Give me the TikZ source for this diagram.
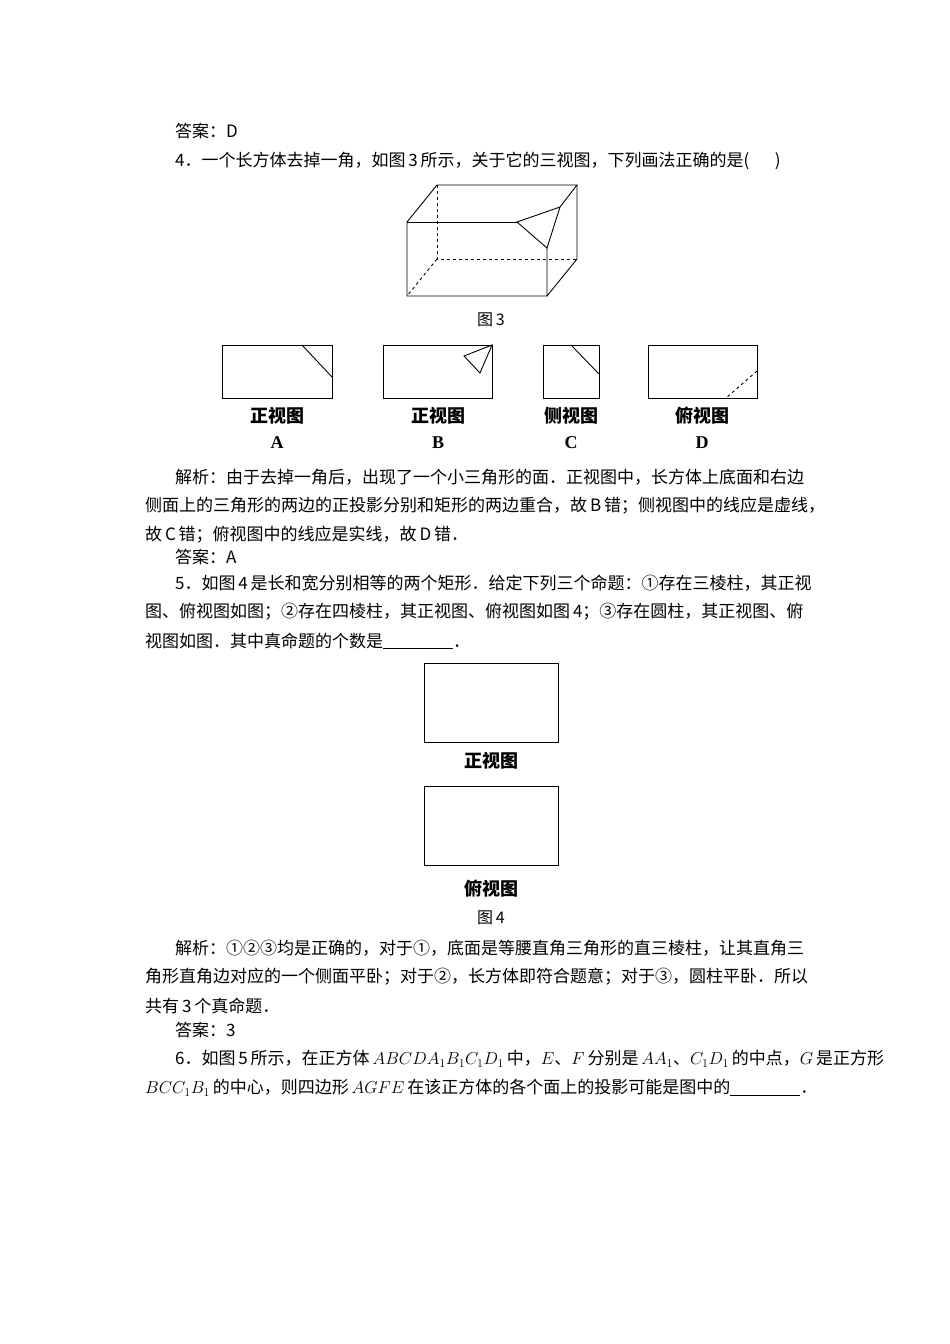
\documentclass[tikz,border=0pt]{standalone}
\usepackage{fontspec}
\setmainfont{Noto Sans CJK SC}
\newfontfamily\lat{Liberation Serif}
\begin{document}
\begin{tikzpicture}[x=1pt,y=-1pt,
  txt/.style={anchor=west,inner sep=0pt,font=\fontsize{17}{19}\selectfont},
  lbl/.style={inner sep=0pt,font=\fontsize{18}{20}\selectfont\bfseries},
  lettr/.style={inner sep=0pt,font=\fontsize{18}{20}\selectfont\lat\bfseries},
  figcap/.style={inner sep=0pt,font=\fontsize{16}{18}\selectfont},
  ln/.style={line width=0.9pt},
  dsh/.style={line width=0.9pt,dashed}]
\useasboundingbox (0,0) rectangle (950,1344);
\node[txt] (t1) at (175,131) {答案：D};
\node[txt] (t2) at (175,161) {4．一个长方体去掉一角，如图\,3\,所示，关于它的三视图，下列画法正确的是(\quad\enspace)};
% cube
\draw[ln] (517,222) -- (560,207) -- (547,248) -- cycle;
\draw[ln] (517,222) -- (407,222);
\draw[ln] (547,248) -- (547,296) -- (407,296) -- (407,222) -- (437,185) -- (577,185) -- (560,207);
\draw[ln] (577,185) -- (577,259) -- (547,296);
\draw[dsh] (437,185) -- (437,259) -- (577,259);
\draw[dsh] (437,259) -- (407,296);
\node[figcap] (f3) at (491,320) {图\,3};
% views
\draw[ln] (222,345) rectangle (332,398); \draw[ln] (302,345) -- (332,377);
\draw[ln] (383,345) rectangle (492,398); \draw[ln] (492,345) -- (464,356) -- (480,373) -- cycle;
\draw[ln] (543,345) rectangle (599,398); \draw[ln] (571,345) -- (599,374);
\draw[ln] (648,345) rectangle (757,398); \draw[dsh] (757,371) -- (726,398);
\node[lbl] (la) at (277,416) {正视图}; \node[lettr] (a) at (277,443) {A};
\node[lbl] (lb) at (438,416) {正视图}; \node[lettr] (b) at (438,443) {B};
\node[lbl] (lc) at (571,416) {侧视图}; \node[lettr] (c) at (571,443) {C};
\node[lbl] (ld) at (702,416) {俯视图}; \node[lettr] (d) at (702,443) {D};
\node[txt] (t3) at (175,477) {解析：由于去掉一角后，出现了一个小三角形的面．正视图中，长方体上底面和右边};
\node[txt] (t4) at (145,506) {侧面上的三角形的两边的正投影分别和矩形的两边重合，故\,B\,错；侧视图中的线应是虚线，};
\node[txt] (t5) at (145,535) {故\,C\,错；俯视图中的线应是实线，故\,D\,错．};
\node[txt] (t6) at (175,557) {答案：A};
\node[txt] (t7) at (175,583) {5．如图\,4\,是长和宽分别相等的两个矩形．给定下列三个命题：①存在三棱柱，其正视};
\node[txt] (t8) at (145,612) {图、俯视图如图；②存在四棱柱，其正视图、俯视图如图\,4；③存在圆柱，其正视图、俯};
\node[txt] (t9) at (145,641) {视图如图．其中真命题的个数是\underline{\hspace{70pt}}．};
\draw[ln] (424,663) rectangle (558,742);
\node[lbl] (z4) at (491,761) {正视图};
\draw[ln] (424,786) rectangle (558,865);
\node[lbl] (f4) at (491,889) {俯视图};
\node[figcap] (c4) at (491,918) {图\,4};
\node[txt] (t10) at (175,948) {解析：①②③均是正确的，对于①，底面是等腰直角三角形的直三棱柱，让其直角三};
\node[txt] (t11) at (145,977) {角形直角边对应的一个侧面平卧；对于②，长方体即符合题意；对于③，圆柱平卧．所以};
\node[txt] (t12) at (145,1006) {共有\,3\,个真命题．};
\node[txt] (t13) at (175,1030) {答案：3};
\node[txt] (t14) at (175,1059) {6．如图\,5\,所示，在正方体\,$ABCDA_1B_1C_1D_1$\,中，$E$、$F$\,分别是\,$AA_1$、$C_1D_1$\,的中点，$G$\,是正方形};
\node[txt] (t15) at (145,1088) {$BCC_1B_1$\,的中心，则四边形\,$AGFE$\,在该正方体的各个面上的投影可能是图中的\underline{\hspace{70pt}}．};
\end{tikzpicture}
\end{document}
